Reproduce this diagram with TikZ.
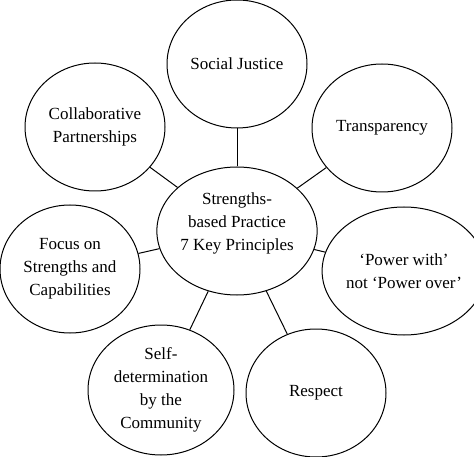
\documentclass[tikz,border=0pt]{standalone}
\usepackage{fontspec}
\setmainfont{Liberation Serif}
\usetikzlibrary{shapes.geometric}
\begin{document}
\begin{tikzpicture}[
        x=1pt, y=-1pt,
        every node/.style={ellipse, draw, line width=1pt, minimum width=140pt, minimum height=128pt,
            inner sep=0pt, align=center, font=\fontsize{17}{23}\selectfont},
        link/.style={line width=1pt}
    ]

    \useasboundingbox (0,0) rectangle (474,457);
    \clip (0,0) rectangle (474,457);

    \node (hub) [text depth=19pt] at (237,231) {Strengths-\\based Practice\\7 Key Principles};
    \node (justice) at (237,64) {Social Justice};
    \node (transparency) at (382,128) {Transparency};
    \node (partners) at (95,127) {Collaborative\\Partnerships};
    \node (focus) at (70,269) {Focus on\\Strengths and\\Capabilities};
    \node (power) at (404,271) {‘Power with’\\not ‘Power over’};
    \node (selfdet) [minimum width=146pt, minimum height=130pt] at (161,390) {Self-\\determination\\by the\\Community};
    \node (respect) at (316,393) {Respect};

    \draw[link] (hub) -- (justice);
    \draw[link] (hub) -- (transparency);
    \draw[link] (hub) -- (partners);
    \draw[link] (hub) -- (focus);
    \draw[link] (hub) -- (power);
    \draw[link] (hub) -- (selfdet);
    \draw[link] (hub) -- (respect);
    \end{tikzpicture}
\end{document}
